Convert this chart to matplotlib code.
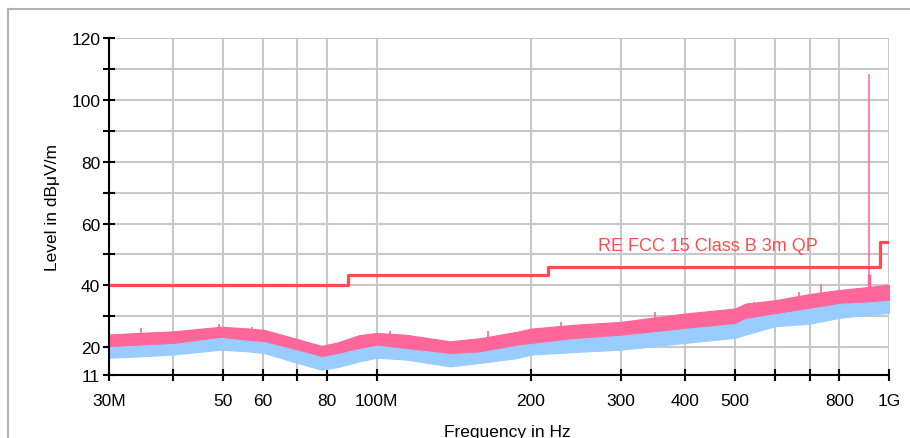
import matplotlib
matplotlib.use('Agg')
import matplotlib.pyplot as plt
from matplotlib.lines import Line2D
from matplotlib.ticker import FixedLocator, FixedFormatter, NullLocator

plt.rcParams['font.family'] = ['Liberation Sans', 'DejaVu Sans']

# ---- data ----
freq_mhz = [30, 34.2, 40, 49.6, 55.6, 60.3, 70, 78, 84, 92.4, 100, 114, 139, 159,
            188, 200, 241, 300, 400, 500, 525, 600, 700, 800, 915, 1000]
peak_hi = [24.1, 24.6, 25.1, 26.6, 26.1, 25.6, 22.6, 20.4, 21.6, 23.9, 24.6, 24.0, 21.9, 22.9,
           25.0, 26.0, 27.2, 28.2, 30.9, 32.5, 34.1, 35.2, 37.2, 38.5, 39.5, 40.2]
peak_lo = [18.5, 19.0, 19.5, 21.5, 20.5, 20.0, 17.5, 15.0, 16.0, 18.0, 19.0, 18.0, 16.0, 17.0,
           19.0, 19.5, 21.0, 22.0, 24.0, 26.0, 27.5, 29.0, 30.5, 32.0, 33.0, 33.5]
avg_hi = [20.0, 20.5, 21.0, 23.0, 22.1, 21.6, 18.9, 16.8, 17.8, 19.4, 20.5, 19.4, 17.8, 18.3,
          20.5, 21.0, 22.6, 23.7, 25.9, 27.5, 29.1, 30.7, 32.4, 34.0, 34.5, 35.0]
avg_lo = [16.6, 17.0, 17.6, 19.2, 18.7, 18.1, 14.9, 12.7, 13.6, 15.4, 16.6, 16.0, 13.8, 14.9,
          16.5, 17.6, 18.4, 19.2, 21.4, 23.0, 24.1, 26.8, 27.6, 29.5, 30.5, 31.1]
spur_mhz = [34.6, 42.4, 49.3, 57.0, 106, 165, 229, 350, 544, 667, 737]
spur_db = [26.2, 25.5, 27.5, 26.5, 25.3, 25.3, 28.1, 31.4, 34.6, 37.8, 40.4]
carrier_mhz = 915
carrier_db = 108.4
carrier_base_db = 43.7
limit_edges_mhz = [30, 88, 216, 960, 1000]
limit_db = [40, 43.5, 46, 54]
limit_label = "RE FCC 15 Class B 3m QP"
xtick_mhz = [30, 40, 50, 60, 70, 80, 100, 200, 300, 400, 500, 600, 700, 800, 1000]
xtick_labels = ['30M', '', '50', '60', '', '80', '100M', '200', '300', '400', '500', '', '', '800', '1G']
ytick_vals = [11, 20, 30, 40, 50, 60, 70, 80, 90, 100, 110, 120]
ytick_labels = ['11', '20', '', '40', '', '60', '', '80', '', '100', '', '120']

PINK = '#ff6699'
BLUE = '#99ccff'
RED = '#ff4d4d'
GRID = '#c8c8c8'

W, H = 910, 439
fig = plt.figure(figsize=(W / 100, H / 100), dpi=100)
ax = fig.add_axes([109 / W, 1 - 376 / H, 780 / W, 337 / H])

f = [v * 1e6 for v in freq_mhz]
ax.fill_between(f, peak_lo, peak_hi, color=PINK, lw=0.8, edgecolor=PINK, zorder=2)
ax.vlines([v * 1e6 for v in spur_mhz], [d - 4 for d in spur_db], spur_db,
          color=PINK, lw=1.2, zorder=2)
ax.vlines([carrier_mhz * 1e6], 35, carrier_base_db, color=PINK, lw=2.5, zorder=2)
ax.vlines([carrier_mhz * 1e6], 35, carrier_db, color=PINK, lw=1.1, zorder=2)
ax.fill_between(f, avg_lo, avg_hi, color=BLUE, lw=0.8, edgecolor=BLUE, zorder=3)

ax.step([v * 1e6 for v in limit_edges_mhz], limit_db + [limit_db[-1]], where='post',
        color=RED, lw=2.3, zorder=4)
ax.text(270e6, 51.4, limit_label, color=RED, fontsize=13, va='baseline', ha='left', zorder=5)

ax.set_xscale('log')
ax.set_xlim(30e6, 1e9)
ax.set_ylim(11, 120)
ax.xaxis.set_major_locator(FixedLocator([v * 1e6 for v in xtick_mhz]))
ax.xaxis.set_major_formatter(FixedFormatter(xtick_labels))
ax.xaxis.set_minor_locator(NullLocator())
ax.yaxis.set_major_locator(FixedLocator(ytick_vals))
ax.yaxis.set_major_formatter(FixedFormatter(ytick_labels))
ax.yaxis.set_minor_locator(NullLocator())

ax.set_axisbelow(True)
ax.grid(True, color=GRID, lw=1.5)
for s in ['top', 'right']:
    ax.spines[s].set_visible(False)
for s in ['left', 'bottom']:
    ax.spines[s].set_color('black')
    ax.spines[s].set_linewidth(1.5)
    ax.spines[s].set_zorder(6)

ax.tick_params(axis='both', direction='inout', length=8.5, width=1.5, color='black',
               labelsize=12.5)
ax.tick_params(axis='y', pad=2)
ax.tick_params(axis='x', pad=9)

ax.set_xlabel('Frequency in Hz', fontsize=12.5)
ax.xaxis.set_label_coords((507 - 109) / 780, -0.145)
ax.set_ylabel('Level in dBμV/m', fontsize=12.5)
ax.yaxis.set_label_coords(-0.063, 0.5)

fig.add_artist(Line2D([8 / W, 1], [1 - 10 / H, 1 - 10 / H], transform=fig.transFigure,
                      color='#b4b4b4', lw=1.5))
fig.add_artist(Line2D([8 / W, 8 / W], [0, 1 - 10 / H], transform=fig.transFigure,
                      color='#b4b4b4', lw=1.5))

fig.savefig('out.png', dpi=100)
